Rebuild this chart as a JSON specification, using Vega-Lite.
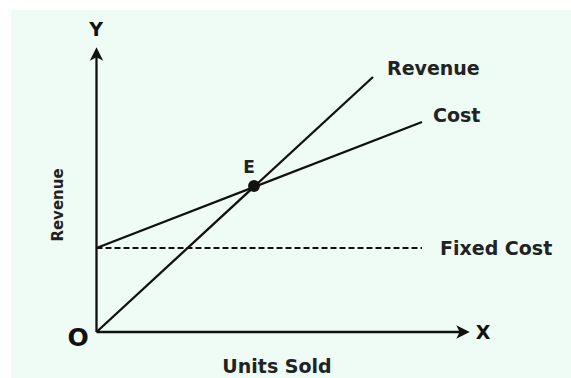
{
  "$schema": "https://vega.github.io/schema/vega-lite/v6.json",
  "width": 560,
  "height": 368,
  "autosize": "none",
  "padding": {"left": 11, "top": 10, "right": 0, "bottom": 0},
  "background": "white",
  "config": {"view": {"fill": "#eefcf5", "stroke": null}},
  "datasets": {
    "lines": [
      {"series": "Revenue", "x": 0, "y": 0},
      {"series": "Revenue", "x": 276.5, "y": 255},
      {"series": "Cost", "x": 0, "y": 84},
      {"series": "Cost", "x": 325.5, "y": 210},
      {"series": "Fixed Cost", "x": 0, "y": 84},
      {"series": "Fixed Cost", "x": 325.5, "y": 84},
      {"series": "Y axis", "x": 0, "y": 0},
      {"series": "Y axis", "x": 0, "y": 280},
      {"series": "X axis", "x": 0, "y": 0},
      {"series": "X axis", "x": 368, "y": 0}
    ],
    "lineLabels": [
      {"label": "Revenue", "x": 290.5, "y": 263},
      {"label": "Cost", "x": 336.5, "y": 216},
      {"label": "Fixed Cost", "x": 343.5, "y": 83}
    ],
    "axisLetters": [
      {"label": "Y", "x": -0.5, "y": 302},
      {"label": "X", "x": 386.5, "y": -1}
    ],
    "origin": [{"label": "O", "x": -18.5, "y": -6}],
    "point": [{"label": "E", "x": 157.5, "y": 146, "lx": 152.5, "ly": 164}],
    "xTitle": [{"label": "Units Sold", "x": 180.5, "y": -35}],
    "yTitle": [{"label": "Revenue", "x": -38.5, "y": 127}],
    "arrowUp": [{"x": 0, "y": 278}],
    "arrowRight": [{"x": 366.5, "y": 0}]
  },
  "encoding": {
    "x": {"field": "x", "type": "quantitative", "scale": {"domain": [-85.5, 474.5], "nice": false, "zero": false}, "axis": null},
    "y": {"field": "y", "type": "quantitative", "scale": {"domain": [-46, 322], "nice": false, "zero": false}, "axis": null}
  },
  "layer": [
    {
      "data": {"name": "lines"},
      "transform": [{"filter": "datum.series !== 'Fixed Cost'"}],
      "mark": {"type": "line", "color": "#111111", "strokeWidth": 2.3},
      "encoding": {"detail": {"field": "series"}}
    },
    {
      "data": {"name": "lines"},
      "transform": [{"filter": "datum.series === 'Fixed Cost'"}],
      "mark": {"type": "line", "color": "#111111", "strokeWidth": 2, "strokeDash": [6, 3]},
      "encoding": {}
    },
    {
      "data": {"name": "arrowUp"},
      "mark": {"type": "point", "shape": "M0,-1L1,1L0,0.5L-1,1Z", "filled": true, "color": "#111111", "size": 180, "opacity": 1}
    },
    {
      "data": {"name": "arrowRight"},
      "mark": {"type": "point", "shape": "M1,0L-1,-1L-0.5,0L-1,1Z", "filled": true, "color": "#111111", "size": 180, "opacity": 1}
    },
    {
      "data": {"name": "point"},
      "mark": {"type": "point", "shape": "circle", "filled": true, "color": "#111111", "size": 140, "opacity": 1}
    },
    {
      "data": {"name": "point"},
      "mark": {"type": "text", "font": "DejaVu Sans", "fontWeight": "bold", "fontSize": 17, "color": "#222222", "align": "center", "baseline": "middle"},
      "encoding": {"x": {"field": "lx", "type": "quantitative"}, "y": {"field": "ly", "type": "quantitative"}, "text": {"field": "label"}}
    },
    {
      "data": {"name": "lineLabels"},
      "mark": {"type": "text", "font": "DejaVu Sans", "fontWeight": "bold", "fontSize": 19, "color": "#222222", "align": "left", "baseline": "middle"},
      "encoding": {"text": {"field": "label"}}
    },
    {
      "data": {"name": "axisLetters"},
      "mark": {"type": "text", "font": "DejaVu Sans", "fontWeight": "bold", "fontSize": 19, "color": "#111111", "align": "center", "baseline": "middle"},
      "encoding": {"text": {"field": "label"}}
    },
    {
      "data": {"name": "origin"},
      "mark": {"type": "text", "font": "DejaVu Sans", "fontWeight": "bold", "fontSize": 25, "color": "#111111", "align": "center", "baseline": "middle"},
      "encoding": {"text": {"field": "label"}}
    },
    {
      "data": {"name": "xTitle"},
      "mark": {"type": "text", "font": "DejaVu Sans", "fontWeight": "bold", "fontSize": 19, "color": "#222222", "align": "center", "baseline": "middle"},
      "encoding": {"text": {"field": "label"}}
    },
    {
      "data": {"name": "yTitle"},
      "mark": {"type": "text", "font": "DejaVu Sans", "fontWeight": "bold", "fontSize": 15, "color": "#222222", "align": "center", "baseline": "middle", "angle": 270},
      "encoding": {"text": {"field": "label"}}
    }
  ]
}
